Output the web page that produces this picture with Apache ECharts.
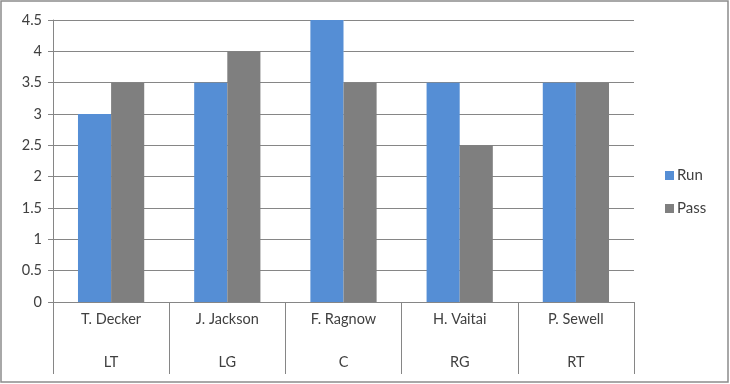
<!DOCTYPE html>
<html><head><meta charset="utf-8">
<script src="https://cdn.jsdelivr.net/npm/echarts@6/dist/echarts.min.js"></script>
<style>html,body{margin:0;padding:0;background:#fff}#c{width:730px;height:384px}</style>
</head><body><div id="c"></div>
<script>
const players = ['T. Decker','J. Jackson','F. Ragnow','H. Vaitai','P. Sewell'];
const positions = ['LT','LG','C','RG','RT'];
const runValues = [3, 3.5, 4.5, 3.5, 3.5];
const passValues = [3.5, 4, 3.5, 2.5, 3.5];
const yTicks = [0,0.5,1,1.5,2,2.5,3,3.5,4,4.5];

const font = 'Lato, "Open Sans", sans-serif';
const chart = echarts.init(document.getElementById('c'));
chart.setOption({
  animation: false,
  backgroundColor: '#fff',
  textStyle: {fontFamily: font},
  graphic: [{type:'rect', shape:{x:1, y:1, width:727, height:381}, style:{fill:'none', stroke:'#8c8c8c', lineWidth:1.5}, silent:true}],
  grid: {left: 53, right: 96, top: 20, bottom: 82},
  legend: {
    orient: 'vertical', left: 660, top: 163, itemGap: 18, itemWidth: 9, itemHeight: 9,
    icon: 'rect',
    textStyle: {fontSize: 15, color: '#404040', fontFamily: font, padding:[0,0,0,-2]},
    data: ['Run','Pass']
  },
  xAxis: {
    type: 'category', data: players,
    axisLine: {show: true, lineStyle: {color: '#868686', width: 1}},
    axisTick: {show: true, length: 72, lineStyle: {color: '#868686'}},
    axisLabel: {
      margin: 7, interval: 0,
      formatter: function(v, i){ return '{a|' + v + '}\n{b|' + positions[i] + '}'; },
      rich: {
        a: {fontSize: 14.5, color: '#404040', lineHeight: 20, fontFamily: font},
        b: {fontSize: 14.5, color: '#404040', lineHeight: 66, fontFamily: font}
      }
    },
    splitLine: {show: false}
  },
  yAxis: {
    type: 'value', min: 0, max: 4.5, interval: 0.5,
    axisLine: {show: true, lineStyle: {color: '#868686'}},
    axisTick: {show: true, length: 5, lineStyle: {color: '#868686'}},
    axisLabel: {fontSize: 14.5, color: '#404040', margin: 11, fontFamily: font,
      formatter: function(v){ return String(v); }},
    splitLine: {show: true, lineStyle: {color: '#868686', width: 1}}
  },
  series: [
    {name: 'Run', type: 'bar', data: runValues, itemStyle: {color: '#558ED5'}, barGap: '0%', barCategoryGap: '43%'},
    {name: 'Pass', type: 'bar', data: passValues, itemStyle: {color: '#7F7F7F'}, barGap: '0%', barCategoryGap: '43%'}
  ]
});
</script></body></html>
